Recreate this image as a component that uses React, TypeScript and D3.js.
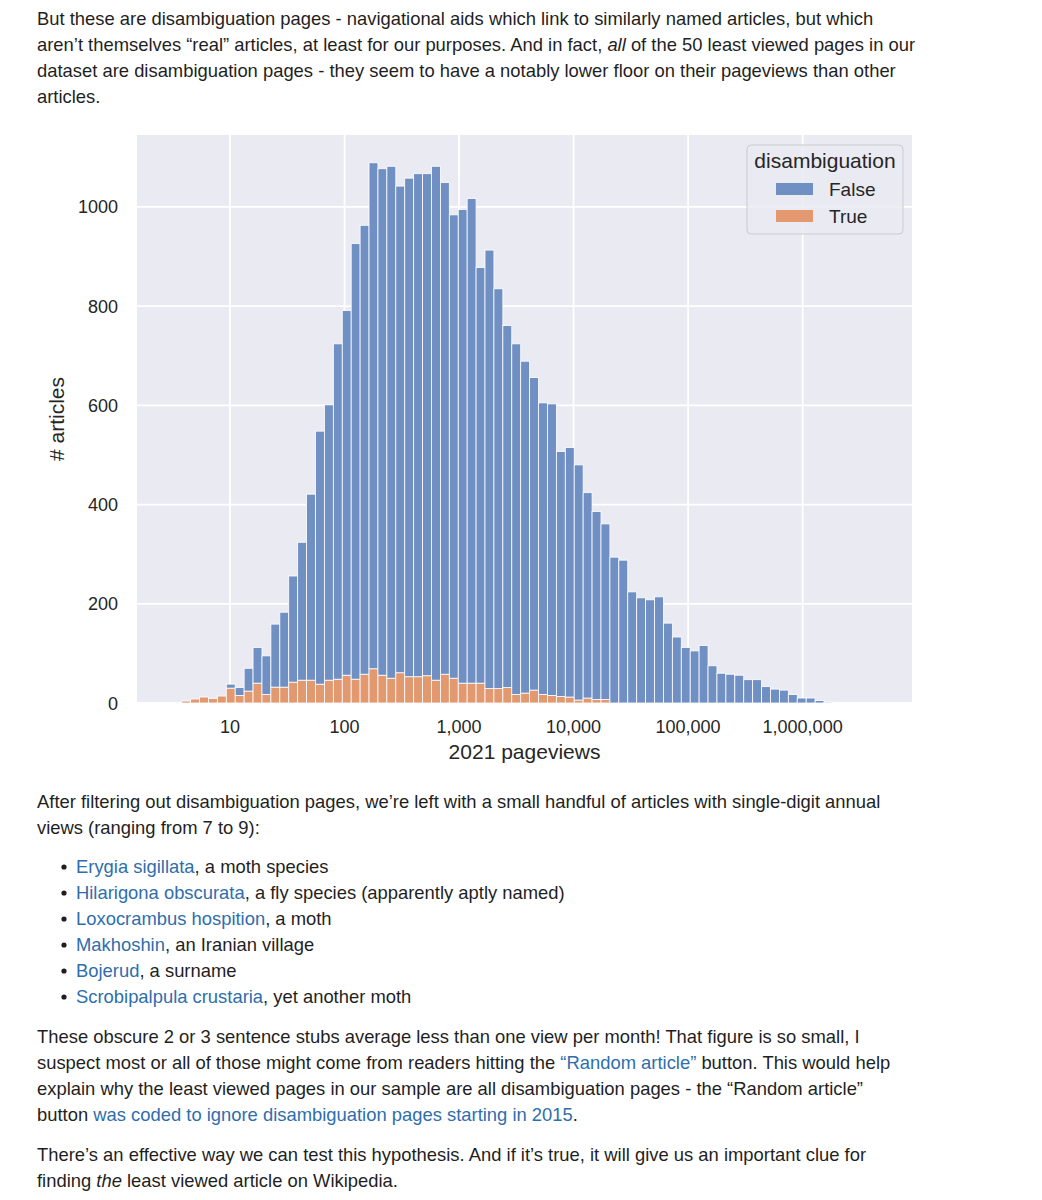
import React from "react";
import * as d3 from "d3";

// ---- data ----
const binStartLog = 0.578; // log10 of first bin's left edge
const binWidthLog = 0.0779; // bin width in log10 units
const trueCounts = [
  4, 8, 12, 9, 14, 30, 15, 24, 40, 17,
  32, 32, 42, 46, 46, 38, 46, 48, 56, 48,
  58, 69, 56, 50, 61, 53, 53, 55, 46, 58,
  50, 40, 40, 40, 29, 29, 31, 17, 20, 26,
  17, 15, 13, 12, 6, 10, 7, 7, 0, 0,
  0, 0, 0, 0, 0, 0, 0, 0, 0, 0,
  0, 0, 0, 0, 0, 0, 0, 0, 0, 0,
  0, 0, 0, 0, 0, 0, 0,
];
const falseCounts = [
  0, 0, 0, 0, 0, 8, 16, 46, 72, 78,
  127, 151, 214, 278, 375, 510, 555, 676, 735, 878,
  905, 1020, 1021, 1032, 981, 1005, 1014, 1012, 1036, 991,
  934, 955, 977, 838, 884, 806, 730, 707, 669, 630,
  588, 588, 494, 503, 474, 414, 379, 354, 294, 288,
  224, 212, 208, 214, 161, 133, 112, 105, 116, 75,
  60, 58, 56, 47, 47, 33, 28, 26, 17, 10,
  10, 5, 2, 1, 1, 1, 1,
];
const xTicks = [10, 100, 1000, 10000, 100000, 1000000];
const yTicks = [0, 200, 400, 600, 800, 1000];
const seriesNames = ["False", "True"];
const legendTitle = "disambiguation";
const xLabel = "2021 pageviews";
const yLabel = "# articles";

type Seg = { t: string; link?: boolean; italic?: boolean };
const para1: Seg[][] = [
  [{ t: "But these are disambiguation pages - navigational aids which link to similarly named articles, but which" }],
  [
    { t: "aren\u2019t themselves \u201creal\u201d articles, at least for our purposes. And in fact, " },
    { t: "all", italic: true },
    { t: " of the 50 least viewed pages in our" },
  ],
  [{ t: "dataset are disambiguation pages - they seem to have a notably lower floor on their pageviews than other" }],
  [{ t: "articles." }],
];
const para2: Seg[][] = [
  [{ t: "After filtering out disambiguation pages, we\u2019re left with a small handful of articles with single-digit annual" }],
  [{ t: "views (ranging from 7 to 9):" }],
];
const bullets: Seg[][] = [
  [{ t: "Erygia sigillata", link: true }, { t: ", a moth species" }],
  [{ t: "Hilarigona obscurata", link: true }, { t: ", a fly species (apparently aptly named)" }],
  [{ t: "Loxocrambus hospition", link: true }, { t: ", a moth" }],
  [{ t: "Makhoshin", link: true }, { t: ", an Iranian village" }],
  [{ t: "Bojerud", link: true }, { t: ", a surname" }],
  [{ t: "Scrobipalpula crustaria", link: true }, { t: ", yet another moth" }],
];
const para3: Seg[][] = [
  [{ t: "These obscure 2 or 3 sentence stubs average less than one view per month! That figure is so small, I" }],
  [
    { t: "suspect most or all of those might come from readers hitting the " },
    { t: "\u201cRandom article\u201d", link: true },
    { t: " button. This would help" },
  ],
  [{ t: "explain why the least viewed pages in our sample are all disambiguation pages - the \u201cRandom article\u201d" }],
  [
    { t: "button " },
    { t: "was coded to ignore disambiguation pages starting in 2015", link: true },
    { t: "." },
  ],
];
const para4: Seg[][] = [
  [{ t: "There\u2019s an effective way we can test this hypothesis. And if it\u2019s true, it will give us an important clue for" }],
  [{ t: "finding " }, { t: "the", italic: true }, { t: " least viewed article on Wikipedia." }],
];

const TEXT = "#1f1f1f";
const LINK = "#2f6eab";
const FONT = "'Liberation Sans', Arial, Helvetica, sans-serif";

function Line({ segs, x, y }: { segs: Seg[]; x: number; y: number }) {
  return (
    <text x={x} y={y} fontFamily={FONT} fontSize={18.4} fill={TEXT}>
      {segs.map((s, i) => (
        <tspan key={i} fill={s.link ? LINK : TEXT} fontStyle={s.italic ? "italic" : "normal"}>
          {s.t}
        </tspan>
      ))}
    </text>
  );
}

export default function App() {
  const W = 1042;
  const H = 1200;
  const plot = { left: 137, right: 912, top: 135, bottom: 703 };

  const x = d3
    .scaleLog()
    .domain([Math.pow(10, 0.1878), Math.pow(10, 6.955)])
    .range([plot.left, plot.right]);
  const y = d3.scaleLinear().domain([0, 1145]).range([plot.bottom, plot.top]);
  const fmt = d3.format(",");

  const blue = "#7090c4";
  const orange = "#e2996f";

  const bins = falseCounts.map((f, i) => {
    const x0 = Math.pow(10, binStartLog + i * binWidthLog);
    const x1 = Math.pow(10, binStartLog + (i + 1) * binWidthLog);
    return { x0, x1, t: trueCounts[i], f };
  });

  const lines: { segs: Seg[]; x: number; y: number; bullet?: boolean }[] = [];
  para1.forEach((s, i) => lines.push({ segs: s, x: 37, y: 25 + i * 26 }));
  para2.forEach((s, i) => lines.push({ segs: s, x: 37, y: 808 + i * 26 }));
  bullets.forEach((s, i) => lines.push({ segs: s, x: 76, y: 873 + i * 26, bullet: true }));
  para3.forEach((s, i) => lines.push({ segs: s, x: 37, y: 1043 + i * 26 }));
  para4.forEach((s, i) => lines.push({ segs: s, x: 37, y: 1161 + i * 26 }));

  const legend = { x: 747, y: 145, w: 156, h: 89 };

  return (
    <div style={{ position: "absolute", left: 0, top: 0, width: W, height: H, background: "#fff" }}>
      <svg width={W} height={H} style={{ display: "block" }}>
        <rect x={0} y={0} width={W} height={H} fill="#fff" />
        {lines.map((l, i) => (
          <g key={i}>
            {l.bullet && <circle cx={64} cy={l.y - 6} r={2.6} fill={TEXT} />}
            <Line segs={l.segs} x={l.x} y={l.y} />
          </g>
        ))}

        {/* plot background */}
        <rect
          x={plot.left}
          y={plot.top}
          width={plot.right - plot.left}
          height={plot.bottom - plot.top}
          fill="#eaeaf2"
        />
        {/* gridlines */}
        {yTicks.map((t) => (
          <line key={"gy" + t} x1={plot.left} x2={plot.right} y1={y(t)} y2={y(t)} stroke="#fff" strokeWidth={1.8} />
        ))}
        {xTicks.map((t) => (
          <line key={"gx" + t} x1={x(t)} x2={x(t)} y1={plot.top} y2={plot.bottom} stroke="#fff" strokeWidth={1.8} />
        ))}

        {/* bars: True at bottom, False stacked on top */}
        {bins.map((b, i) => (
          <g key={"b" + i}>
            {b.t > 0 && (
              <rect
                x={x(b.x0)}
                width={x(b.x1) - x(b.x0)}
                y={y(b.t)}
                height={y(0) - y(b.t)}
                fill={orange}
                stroke="#fff"
                strokeWidth={0.8}
              />
            )}
            {b.f > 0 && (
              <rect
                x={x(b.x0)}
                width={x(b.x1) - x(b.x0)}
                y={y(b.t + b.f)}
                height={y(b.t) - y(b.t + b.f)}
                fill={blue}
                stroke="#fff"
                strokeWidth={0.8}
              />
            )}
          </g>
        ))}

        {/* tick labels */}
        {xTicks.map((t) => (
          <text
            key={"xl" + t}
            x={x(t)}
            y={733}
            textAnchor="middle"
            fontFamily={FONT}
            fontSize={18}
            fill="#262626"
          >
            {fmt(t)}
          </text>
        ))}
        {yTicks.map((t) => (
          <text
            key={"yl" + t}
            x={118}
            y={y(t) + 6.5}
            textAnchor="end"
            fontFamily={FONT}
            fontSize={18}
            fill="#262626"
          >
            {t}
          </text>
        ))}
        <text
          x={(plot.left + plot.right) / 2}
          y={759}
          textAnchor="middle"
          fontFamily={FONT}
          fontSize={21}
          fill="#262626"
        >
          {xLabel}
        </text>
        <text
          transform={`translate(64, ${(plot.top + plot.bottom) / 2}) rotate(-90)`}
          textAnchor="middle"
          fontFamily={FONT}
          fontSize={21}
          fill="#262626"
        >
          {yLabel}
        </text>

        {/* legend */}
        <rect
          x={legend.x}
          y={legend.y}
          width={legend.w}
          height={legend.h}
          rx={4}
          fill="#eaeaf2"
          fillOpacity={0.8}
          stroke="#cccccc"
          strokeWidth={1}
        />
        <text
          x={legend.x + legend.w / 2}
          y={168}
          textAnchor="middle"
          fontFamily={FONT}
          fontSize={21}
          fill="#262626"
        >
          {legendTitle}
        </text>
        {seriesNames.map((n, i) => (
          <g key={n}>
            <rect x={776} y={183 + i * 27} width={37} height={12} fill={i === 0 ? blue : orange} />
            <text x={829} y={196 + i * 27} fontFamily={FONT} fontSize={19} fill="#262626">
              {n}
            </text>
          </g>
        ))}
      </svg>
    </div>
  );
}
